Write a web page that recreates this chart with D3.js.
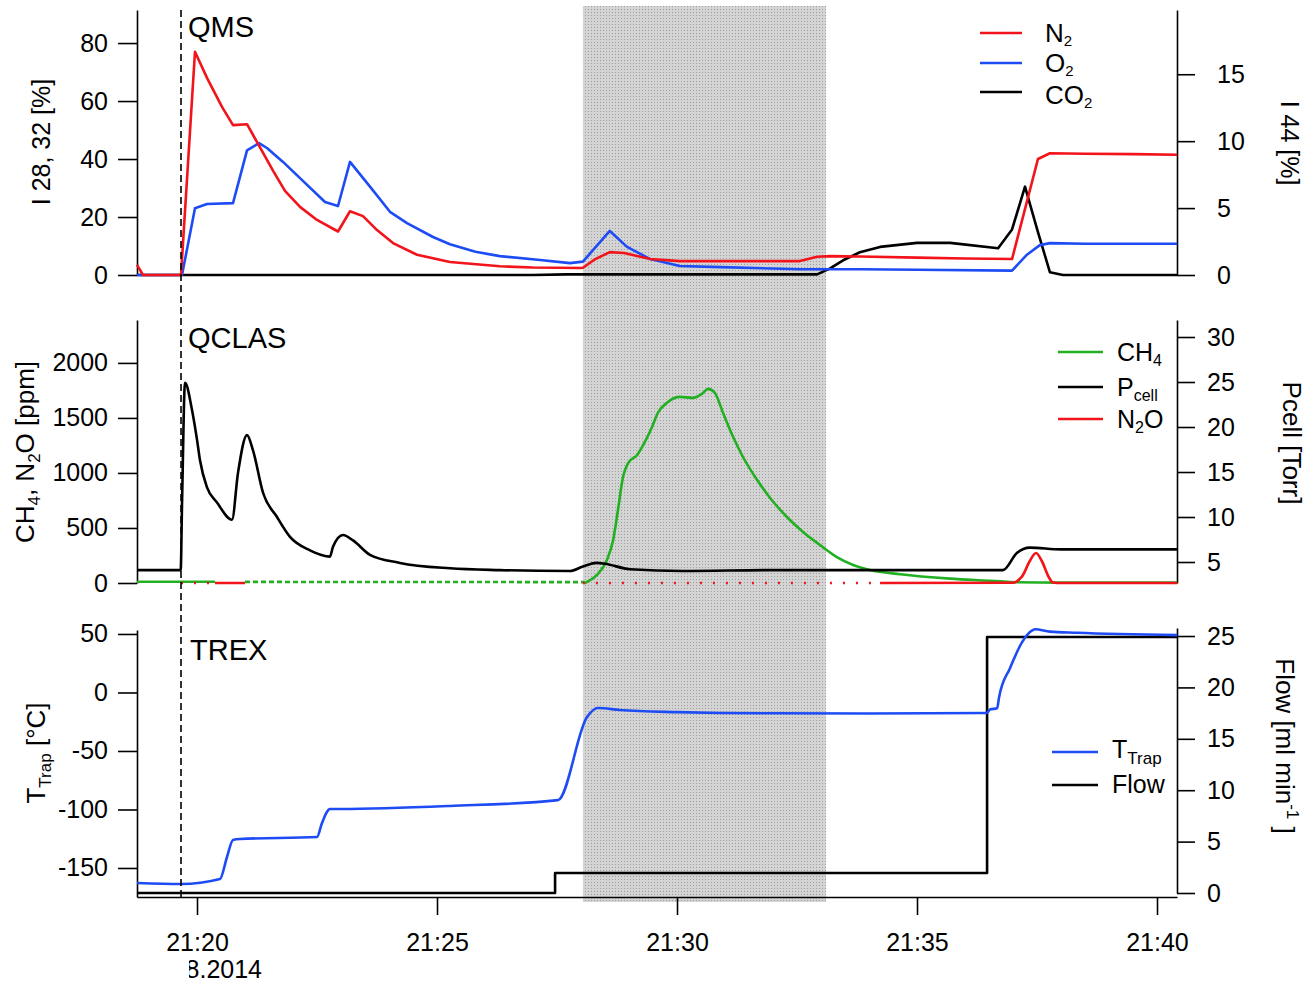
<!DOCTYPE html>
<html><head><meta charset="utf-8">
<script src="https://cdn.jsdelivr.net/npm/d3@7"></script>
<style>
body{margin:0;background:#fff}
svg{display:block}
text{font-family:"Liberation Sans",Arial,Helvetica,sans-serif;fill:#000}
</style>
</head><body>
<svg id="c" width="1314" height="986"></svg>
<script>
// ---------------- DATA (time in minutes after 21:00) ----------------
const xTickValues = [20, 25, 30, 35, 40];
const xTickLabels = ["21:20", "21:25", "21:30", "21:35", "21:40"];
const dateLabel = "8.2014";
const injectTime = 19.667;
const shadeStart = 28.04, shadeEnd = 33.104;

// QMS
const qmsLeftTicks = [0, 20, 40, 60, 80];
const qmsRightTicks = [0, 5, 10, 15];
const n2 = [[18.75,3.5],[18.875,0],[19.667,0],[19.958,77],[20.208,68],[20.521,58],[20.75,51.7],[21.042,52],[21.3125,44],[21.583,36],[21.833,29],[22.146,23.5],[22.5,19],[22.9375,15],[23.1875,22],[23.458,20.3],[23.75,15.5],[24.083,11],[24.583,7],[25.27,4.5],[26.31,3],[27.0,2.6],[27.98,2.4],[28.04,2.5],[28.3,5.5],[28.6,7.9],[28.9,7.6],[29.44,5.5],[30.06,4.8],[31.0,4.8],[32.56,4.8],[32.92,6.3],[33.19,6.5],[33.81,6.4],[35.0,6.0],[36.0,5.7],[36.98,5.5],[37.52,40],[37.77,42],[38.5,41.8],[39.5,41.7],[40.42,41.5]];
const o2 = [[18.75,0],[19.6875,0],[19.958,23],[20.208,24.5],[20.75,24.8],[21.042,43],[21.292,45.5],[21.458,43.8],[21.792,39],[22.146,33.4],[22.667,25.2],[22.9375,23.8],[23.1875,39],[23.604,30.5],[24.02,21.8],[24.375,17.9],[24.917,13.1],[25.27,10.6],[25.8,8],[26.31,6.5],[27.15,5.2],[27.77,4.1],[28.04,4.6],[28.6,15.2],[28.96,9.7],[29.44,5.5],[30.06,3.1],[30.9,2.7],[32.56,2.0],[33.81,2.0],[35.0,1.8],[36.98,1.5],[37.29,7],[37.56,10.3],[37.77,11],[38.5,10.8],[40.42,10.8]];
const co2 = [[18.75,0],[27.0,0],[27.7,0.05],[32.92,0.05],[33.19,0.5],[33.46,1.1],[33.81,1.7],[34.23,2.1],[35.0,2.4],[35.69,2.4],[36.69,2.0],[36.98,3.4],[37.25,6.6],[37.52,3.2],[37.77,0.2],[38.04,0],[40.42,0]];

// QCLAS
const qclasLeftTicks = [0, 500, 1000, 1500, 2000];
const qclasRightTicks = [5, 10, 15, 20, 25, 30];
const pcell = [[18.75,4.1],[19.66,4.1],[19.69,12],[19.75,24.9],[19.896,21.9],[20.0,18.6],[20.0625,16.3],[20.208,13.3],[20.417,11.6],[20.729,9.7],[20.854,14.9],[21.042,19.1],[21.167,17.4],[21.375,12.7],[21.667,10],[21.9375,7.8],[22.354,6.3],[22.771,5.6],[22.833,6.7],[23.042,8],[23.25,7.4],[23.604,5.8],[24.229,4.9],[25.27,4.3],[26.31,4.1],[27.77,4.0],[28.04,4.5],[28.33,4.9],[28.5,4.8],[29.02,4.2],[30.125,4.0],[32.0,4.1],[34.0,4.1],[36.79,4.1],[37.08,6.0],[37.35,6.6],[38.0,6.4],[40.42,6.4]];
const ch4 = [[28.08,0],[28.33,73],[28.54,209],[28.67,391],[28.77,664],[28.875,964],[28.98,1090],[29.17,1164],[29.33,1282],[29.48,1418],[29.6,1545],[29.81,1645],[30.06,1691],[30.33,1682],[30.52,1718],[30.65,1764],[30.79,1727],[30.96,1545],[31.17,1327],[31.375,1145],[31.67,936],[31.94,773],[32.29,600],[32.625,464],[32.98,345],[33.33,236],[33.67,164],[34.02,118],[34.65,80],[35.69,40],[36.73,15],[36.94,8],[38.0,3],[40.42,3]];
const ch4LowSolid = [[18.75,12],[20.375,12]];
const ch4LowNoisy = [[21.0,10],[28.08,8]];
const n2o = [[20.375,0],[21.0,0],[34.23,null],[34.23,0],[36.98,2],[37.19,60],[37.35,200],[37.48,273],[37.6,200],[37.75,50],[37.83,5],[38.0,0],[40.42,0]];
const n2oNoisy = [[19.667,0],[20.375,0],[28.04,null],[28.04,0],[34.23,0]];

// TREX
const trexLeftTicks = [-150, -100, -50, 0, 50];
const trexRightTicks = [0, 5, 10, 15, 20, 25];
const tTrap = [[18.75,-162.8],[19.667,-163.7],[20.479,-159.4],[20.625,-140.6],[20.75,-126],[20.896,-125.2],[22.5,-123.5],[22.604,-111.5],[22.771,-99.6],[22.979,-99.6],[25.27,-97],[27.52,-92],[28.125,-21],[28.35,-13.3],[28.81,-15],[30.0,-16.8],[30.9,-17.5],[32.0,-17.8],[34.0,-18],[36.46,-17.5],[36.52,-14.5],[36.67,-13.5],[36.71,-4],[36.94,21],[37.19,43],[37.4,53],[37.46,54],[37.77,52],[38.33,51],[40.42,49]];
const flow = [[18.75,0],[27.46,1.95],[36.46,24.9],[40.42,24.9]];

// ---------------- DRAWING ----------------
const svg = d3.select("#c");
const COL = {red:"#f2131b", blue:"#1d4cf5", green:"#22b022", black:"#000"};
const LW = 2.6;

const defs = svg.append("defs");
const pat = defs.append("pattern").attr("id","dots").attr("width",3).attr("height",3).attr("patternUnits","userSpaceOnUse");
pat.append("rect").attr("width",3).attr("height",3).attr("fill","#d4d4d4");
pat.append("rect").attr("width",1).attr("height",1).attr("fill","#9c9c9c");
defs.append("clipPath").attr("id","dateclip").append("rect").attr("x",189).attr("y",940).attr("width",200).attr("height",60);

const x = d3.scaleLinear().domain([18.75, 40.4167]).range([137, 1177]);

// shaded interval
svg.append("rect").attr("x", x(shadeStart)).attr("y", 6)
  .attr("width", x(shadeEnd) - x(shadeStart)).attr("height", 896)
  .attr("fill", "url(#dots)");

const panels = {
  top: {yL: d3.scaleLinear().domain([0, 91.4]).range([275, 10]),
        yR: d3.scaleLinear().domain([0, 19.8]).range([275, 10])},
  mid: {yL: d3.scaleLinear().domain([0, 2390]).range([583, 320]),
        yR: d3.scaleLinear().domain([2.667, 31.89]).range([583, 320])},
  bot: {yL: d3.scaleLinear().domain([-174.8, 53.4]).range([897, 630]),
        yR: d3.scaleLinear().domain([0, 25.78]).range([893, 628])}
};

const plain = d => String(d);
function styleAxis(g){
  g.attr("font-size", 25).attr("font-family", null);
  g.selectAll("path,line").attr("stroke","#000").attr("stroke-width",1.6);
}
function leftAxis(scale, ticks){
  svg.append("g").attr("transform","translate(137,0)")
    .call(d3.axisLeft(scale).tickValues(ticks).tickFormat(plain).tickSize(19).tickPadding(10).tickSizeOuter(0))
    .call(styleAxis);
}
function rightAxis(scale, ticks, pad){
  svg.append("g").attr("transform","translate(1177,0)")
    .call(d3.axisRight(scale).tickValues(ticks).tickFormat(plain).tickSize(18).tickPadding(pad).tickSizeOuter(0))
    .call(styleAxis);
}
leftAxis(panels.top.yL, qmsLeftTicks);
rightAxis(panels.top.yR, qmsRightTicks, 22);
leftAxis(panels.mid.yL, qclasLeftTicks);
rightAxis(panels.mid.yR, qclasRightTicks, 12);
leftAxis(panels.bot.yL, trexLeftTicks);
rightAxis(panels.bot.yR, trexRightTicks, 12);

svg.append("g").attr("transform","translate(0,897)")
  .call(d3.axisBottom(x).tickValues(xTickValues).tickFormat((d,i)=>xTickLabels[i]).tickSize(18).tickPadding(18).tickSizeOuter(0))
  .call(styleAxis);

svg.append("text").attr("clip-path","url(#dateclip)").attr("x",262).attr("y",978)
  .attr("text-anchor","end").attr("font-size",25).text(dateLabel);

function draw(data, y, color, opts={}){
  const line = d3.line().defined(d => d[1] != null)
    .x(d => x(d[0])).y(d => y(d[1]))
    .curve(opts.curve || d3.curveLinear);
  const p = svg.append("path").datum(data).attr("d", line)
    .attr("fill","none").attr("stroke",color).attr("stroke-width", opts.w || LW)
    .attr("stroke-linejoin","round");
  if (opts.dash) p.attr("stroke-dasharray", opts.dash);
  return p;
}

// QMS lines
draw(co2, panels.top.yR, COL.black);
draw(o2, panels.top.yL, COL.blue);
draw(n2, panels.top.yL, COL.red);

// QCLAS lines
draw(ch4LowSolid, panels.mid.yL, COL.green);
draw(ch4LowNoisy, panels.mid.yL, COL.green, {dash:"5,3"});
draw(ch4, panels.mid.yL, COL.green, {curve: d3.curveMonotoneX});
draw(n2oNoisy, panels.mid.yL, COL.red, {dash:"2,11"});
draw(n2o, panels.mid.yL, COL.red, {curve: d3.curveMonotoneX});
draw(pcell, panels.mid.yR, COL.black, {curve: d3.curveMonotoneX});

// TREX lines
draw(flow, panels.bot.yR, COL.black, {curve: d3.curveStepAfter});
draw(tTrap, panels.bot.yL, COL.blue, {curve: d3.curveMonotoneX});

// injection marker
svg.append("line").attr("x1", x(injectTime)).attr("x2", x(injectTime))
  .attr("y1", 10).attr("y2", 900).attr("stroke","#000").attr("stroke-width",1.6)
  .attr("stroke-dasharray","7,4");

// ---------- texts ----------
function rich(parent, parts, attrs){
  const t = parent.append("text");
  Object.entries(attrs).forEach(([k,v]) => t.attr(k,v));
  let shift = 0;
  parts.forEach(p => {
    const s = t.append("tspan").text(p.t);
    let target = 0;
    if (p.sub) { s.attr("font-size", p.fs || 17); target = p.dy || 6; }
    if (p.sup) { s.attr("font-size", 17); target = -11; }
    s.attr("dy", target - shift);
    shift = target;
  });
  return t;
}

// panel labels
svg.append("text").attr("x",188).attr("y",37).attr("font-size",29).text("QMS");
svg.append("text").attr("x",188).attr("y",348).attr("font-size",29).text("QCLAS");
svg.append("text").attr("x",190).attr("y",660).attr("font-size",29).text("TREX");

// axis titles
rich(svg, [{t:"I 28, 32 [%]"}], {transform:"translate(50,142) rotate(-90)", "text-anchor":"middle", "font-size":25});
rich(svg, [{t:"I 44 [%]"}], {transform:"translate(1281,143) rotate(90)", "text-anchor":"middle", "font-size":25});
rich(svg, [{t:"CH"},{t:"4",sub:true},{t:", N"},{t:"2",sub:true},{t:"O [ppm]"}], {transform:"translate(34,452) rotate(-90)", "text-anchor":"middle", "font-size":26});
rich(svg, [{t:"Pcell [Torr]"}], {transform:"translate(1283,443) rotate(90)", "text-anchor":"middle", "font-size":26});
rich(svg, [{t:"T"},{t:"Trap",sub:true},{t:" [°C]"}], {transform:"translate(45,753) rotate(-90)", "text-anchor":"middle", "font-size":26});
rich(svg, [{t:"Flow [ml min"},{t:"-1",sup:true},{t:" ]"}], {transform:"translate(1276,746) rotate(90)", "text-anchor":"middle", "font-size":26});

// legends
function legend(items, x1, x2, tx, fs){
  items.forEach(it => {
    svg.append("line").attr("x1",x1).attr("x2",x2).attr("y1",it.y).attr("y2",it.y)
      .attr("stroke",it.c).attr("stroke-width",LW);
    rich(svg, it.parts, {x:tx, y:it.y + it.dy, "font-size":fs});
  });
}
legend([
  {y:33, c:COL.red, dy:9, parts:[{t:"N"},{t:"2",sub:true,fs:15,dy:4}]},
  {y:63, c:COL.blue, dy:9, parts:[{t:"O"},{t:"2",sub:true,fs:15,dy:4}]},
  {y:92, c:COL.black, dy:12, parts:[{t:"CO"},{t:"2",sub:true,fs:15,dy:4}]}
], 980, 1022, 1045, 26);
legend([
  {y:352, c:COL.green, dy:9, parts:[{t:"CH"},{t:"4",sub:true,fs:16,dy:5}]},
  {y:387, c:COL.black, dy:9, parts:[{t:"P"},{t:"cell",sub:true,fs:16,dy:5}]},
  {y:419, c:COL.red, dy:9, parts:[{t:"N"},{t:"2",sub:true,fs:16,dy:5},{t:"O"}]}
], 1058, 1103, 1117, 25);
legend([
  {y:752, c:COL.blue, dy:6, parts:[{t:"T"},{t:"Trap",sub:true,fs:17,dy:6}]},
  {y:785, c:COL.black, dy:8, parts:[{t:"Flow"}]}
], 1052, 1098, 1112, 25);
</script>
</body></html>
